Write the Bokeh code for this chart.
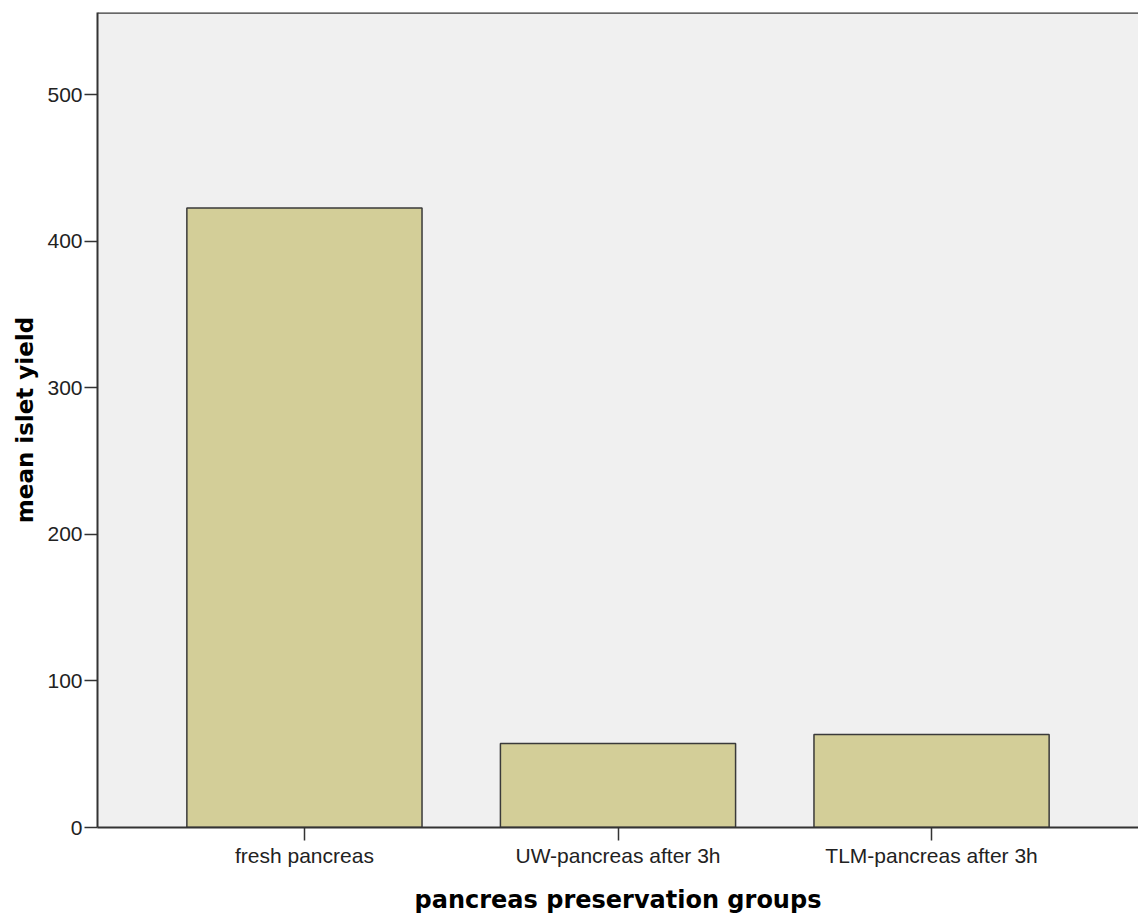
from bokeh.plotting import figure
from bokeh.models import FactorRange, Range1d, SingleIntervalTicker, Span
from bokeh.embed import file_html
from bokeh.resources import INLINE

categories = ["fresh pancreas", "UW-pancreas after 3h", "TLM-pancreas after 3h"]
mean_yield = [422.7, 57.3, 63.4]

p = figure(
    width=1138, height=919,
    x_range=FactorRange(factors=categories, range_padding=0.16, range_padding_units="absolute"),
    y_range=Range1d(0, 556),
    output_backend="svg", toolbar_location=None,
    min_border_left=97, min_border_top=12, min_border_right=0, min_border_bottom=92,
)
p.background_fill_color = "#f0f0f0"
p.border_fill_color = "white"
p.outline_line_color = None
p.grid.visible = False

p.vbar(x=categories, top=mean_yield, width=0.75, bottom=0,
       fill_color="#d3ce98", line_color="#3a3a3a", line_width=1.5)

top_line = Span(location=556, dimension="width", line_color="#3a3a3a", line_width=2.5)
p.add_layout(top_line)

for ax in (p.xaxis[0], p.yaxis[0]):
    ax.axis_line_color = "#333333"
    ax.axis_line_width = 2
    ax.major_tick_line_color = "#333333"
    ax.major_tick_line_width = 1.5
    ax.major_tick_out = 13
    ax.major_tick_in = 0
    ax.minor_tick_out = 0
    ax.minor_tick_in = 0
    ax.major_label_text_font = "Liberation Sans"
    ax.major_label_text_font_size = "21px"
    ax.major_label_text_color = "#222222"
    ax.axis_label_text_font = "DejaVu Sans"
    ax.axis_label_text_font_style = "bold"
    ax.axis_label_text_color = "black"

p.yaxis[0].ticker = SingleIntervalTicker(interval=100)
p.yaxis[0].major_label_standoff = 2
p.yaxis[0].axis_label = "mean islet yield"
p.yaxis[0].axis_label_text_font_size = "23px"
p.yaxis[0].axis_label_standoff = 6

p.xaxis[0].major_label_standoff = 3
p.xaxis[0].axis_label = "pancreas preservation groups"
p.xaxis[0].axis_label_text_font_size = "24px"
p.xaxis[0].axis_label_standoff = 16

open("out.html", "w").write(file_html(p, INLINE))
